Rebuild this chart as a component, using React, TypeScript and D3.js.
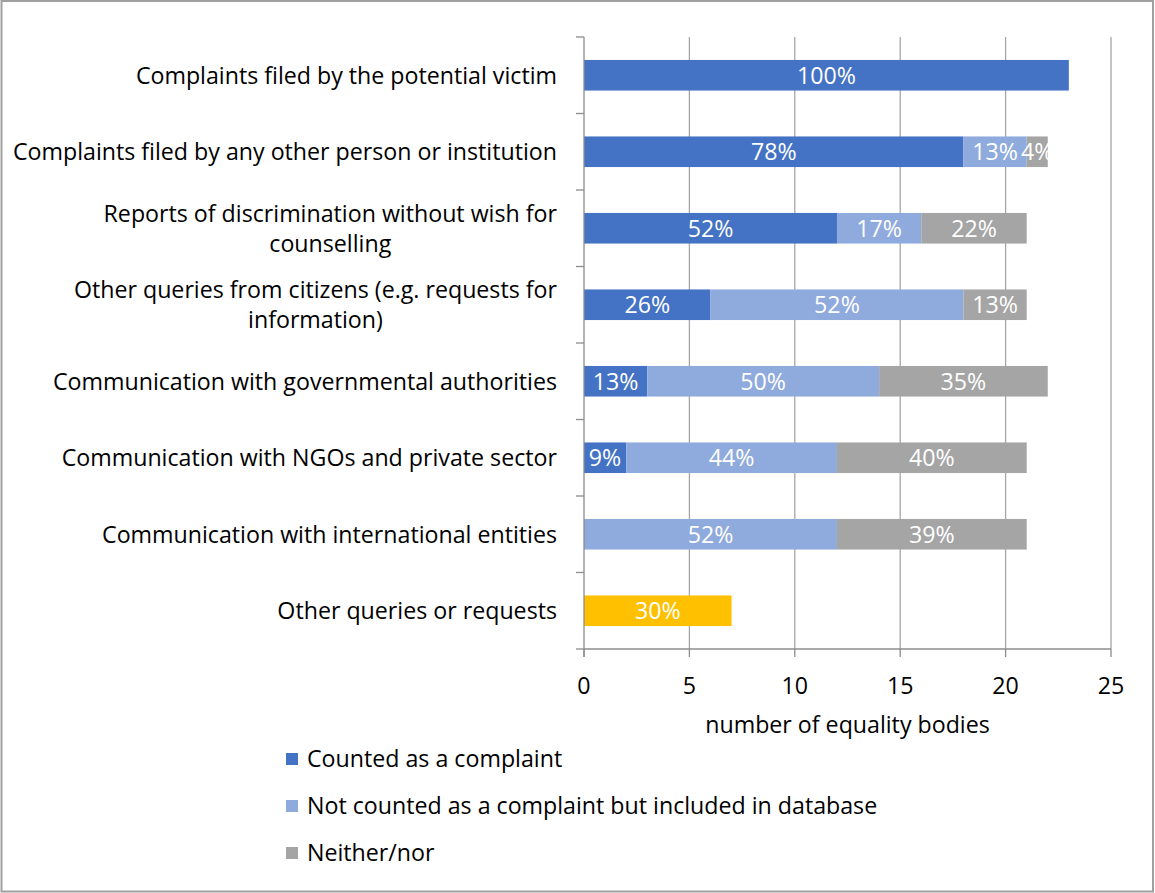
import { useEffect, useRef } from "react";
import * as d3 from "d3";

const categories = [
  "Complaints filed by the potential victim",
  "Complaints filed by any other person or institution",
  "Reports of discrimination without wish for|counselling",
  "Other queries from citizens (e.g. requests for|information)",
  "Communication with governmental authorities",
  "Communication with NGOs and private sector",
  "Communication with international entities",
  "Other queries or requests",
];

const seriesNames = [
  "Counted as a complaint",
  "Not counted as a complaint but included in database",
  "Neither/nor",
];

// number of equality bodies per series
const counted = [23, 18, 12, 6, 3, 2, 0, 0];
const included = [0, 3, 4, 12, 11, 10, 12, 0];
const neither = [0, 1, 5, 3, 8, 9, 9, 7];

// data labels as shown on the bars
const countedLabels = ["100%", "78%", "52%", "26%", "13%", "9%", "", ""];
const includedLabels = ["", "13%", "17%", "52%", "50%", "44%", "52%", ""];
const neitherLabels = ["", "4%", "22%", "13%", "35%", "40%", "39%", "30%"];

const xTicks = [0, 5, 10, 15, 20, 25];

const colors = ["#4472C4", "#8FAADC", "#A5A5A5"];
const highlightColor = "#FFC000"; // last bar is coloured differently

const FONT = "'Open Sans', sans-serif";
const FS = 23.2;

function App() {
  const ref = useRef<SVGSVGElement>(null);

  useEffect(() => {
    const svg = d3.select(ref.current);
    svg.selectAll("*").remove();

    const width = 1155;
    const height = 893;
    const margin = { left: 584, right: 44, top: 37, bottom: 244 };

    const x = d3.scaleLinear([0, 25], [margin.left, width - margin.right]);
    const y = d3
      .scaleBand<number>()
      .domain(d3.range(categories.length))
      .range([margin.top, height - margin.bottom])
      .paddingInner(0.6)
      .paddingOuter(0.3);

    const step = y.step();
    const plotTop = margin.top;
    const plotBottom = height - margin.bottom;

    // outer border
    svg
      .append("rect")
      .attr("x", 1.5)
      .attr("y", 1)
      .attr("width", width - 3.5)
      .attr("height", height - 2.5)
      .attr("fill", "white")
      .attr("stroke", "#A0A0A0")
      .attr("stroke-width", 2);

    // vertical gridlines
    svg
      .selectAll("line.grid")
      .data(xTicks.slice(1))
      .enter()
      .append("line")
      .attr("class", "grid")
      .attr("x1", (d) => x(d))
      .attr("x2", (d) => x(d))
      .attr("y1", plotTop)
      .attr("y2", plotBottom)
      .attr("stroke", "#A6A6A6")
      .attr("stroke-width", 1.3);

    // stacked bars
    const series = [counted, included, neither];
    const labels = [countedLabels, includedLabels, neitherLabels];
    const stacked = d3
      .stack<number>()
      .keys(["0", "1", "2"])
      .value((i, key) => series[+key][i])(d3.range(categories.length));

    stacked.forEach((layer, s) => {
      layer.forEach((seg, i) => {
        const x0 = x(seg[0]);
        const x1 = x(seg[1]);
        if (x1 - x0 <= 0) return;
        const fill =
          s === 2 && i === categories.length - 1 ? highlightColor : colors[s];
        svg
          .append("rect")
          .attr("x", x0)
          .attr("y", y(i)!)
          .attr("width", x1 - x0)
          .attr("height", y.bandwidth())
          .attr("fill", fill);
      });
    });

    // data labels
    stacked.forEach((layer, s) => {
      layer.forEach((seg, i) => {
        const x0 = x(seg[0]);
        const x1 = x(seg[1]);
        const txt = labels[s][i];
        if (x1 - x0 <= 0 || !txt) return;
        svg
          .append("text")
          .attr("x", (x0 + x1) / 2)
          .attr("y", y(i)! + y.bandwidth() / 2)
          .attr("dy", "0.36em")
          .attr("text-anchor", "middle")
          .attr("fill", "white")
          .attr("font-family", FONT)
          .attr("font-size", FS)
          .text(txt);
      });
    });

    // y axis line and ticks
    const axisColor = "#8C8C8C";
    svg
      .append("line")
      .attr("x1", margin.left)
      .attr("x2", margin.left)
      .attr("y1", plotTop)
      .attr("y2", plotBottom + 8)
      .attr("stroke", axisColor)
      .attr("stroke-width", 1.3);
    svg
      .selectAll("line.ytick")
      .data(d3.range(categories.length + 1))
      .enter()
      .append("line")
      .attr("class", "ytick")
      .attr("x1", margin.left - 8)
      .attr("x2", margin.left)
      .attr("y1", (d) => plotTop + d * step)
      .attr("y2", (d) => plotTop + d * step)
      .attr("stroke", axisColor)
      .attr("stroke-width", 1.3);

    // x axis line and ticks
    svg
      .append("line")
      .attr("x1", margin.left)
      .attr("x2", x(25))
      .attr("y1", plotBottom)
      .attr("y2", plotBottom)
      .attr("stroke", axisColor)
      .attr("stroke-width", 1.3);
    svg
      .selectAll("line.xtick")
      .data(xTicks)
      .enter()
      .append("line")
      .attr("class", "xtick")
      .attr("x1", (d) => x(d))
      .attr("x2", (d) => x(d))
      .attr("y1", plotBottom)
      .attr("y2", plotBottom + 8)
      .attr("stroke", axisColor)
      .attr("stroke-width", 1.3);

    svg
      .selectAll("text.xlabel")
      .data(xTicks)
      .enter()
      .append("text")
      .attr("class", "xlabel")
      .attr("x", (d) => x(d))
      .attr("y", 686)
      .attr("dy", "0.36em")
      .attr("text-anchor", "middle")
      .attr("font-family", FONT)
      .attr("font-size", FS)
      .attr("fill", "#000")
      .text((d) => d);

    // axis title
    svg
      .append("text")
      .attr("x", (x(0) + x(25)) / 2)
      .attr("y", 725)
      .attr("dy", "0.36em")
      .attr("text-anchor", "middle")
      .attr("font-family", FONT)
      .attr("font-size", FS)
      .text("number of equality bodies");

    // category labels (wrapped ones are centred on the longest line)
    const labelRight = 557;
    const lineHeight = 30;
    categories.forEach((cat, i) => {
      const lines = cat.split("|");
      const cy = y(i)! + y.bandwidth() / 2;
      const g = svg.append("g");
      const texts = lines.map((ln, k) =>
        g
          .append("text")
          .attr("y", cy + (k - (lines.length - 1) / 2) * lineHeight)
          .attr("dy", "0.36em")
          .attr("font-family", FONT)
          .attr("font-size", FS)
          .attr("fill", "#000")
          .text(ln)
      );
      if (lines.length === 1) {
        texts[0].attr("x", labelRight).attr("text-anchor", "end");
      } else {
        const maxW = d3.max(
          texts,
          (t) => (t.node() as SVGTextElement).getComputedTextLength()
        )!;
        texts.forEach((t) =>
          t.attr("x", labelRight - maxW / 2).attr("text-anchor", "middle")
        );
      }
    });

    // legend
    seriesNames.forEach((name, i) => {
      const ly = 759 + i * 47;
      svg
        .append("rect")
        .attr("x", 286)
        .attr("y", ly - 6)
        .attr("width", 12)
        .attr("height", 12)
        .attr("fill", colors[i]);
      svg
        .append("text")
        .attr("x", 307)
        .attr("y", ly)
        .attr("dy", "0.36em")
        .attr("font-family", FONT)
        .attr("font-size", FS)
        .text(name);
    });
  }, []);

  return (
    <svg
      ref={ref}
      width={1155}
      height={893}
      style={{ position: "absolute", left: 0, top: 0 }}
    />
  );
}

export default App;
